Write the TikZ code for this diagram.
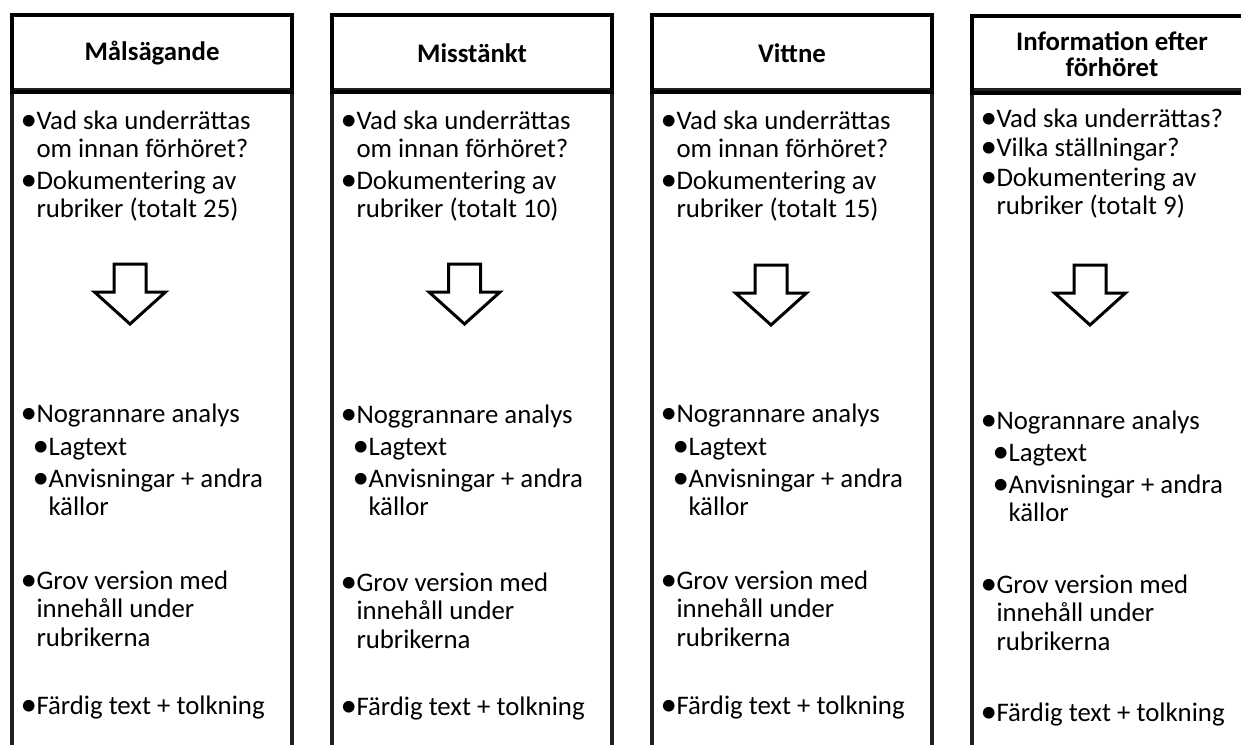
\documentclass[tikz,border=0pt]{standalone}
\usepackage{fontspec}
\setmainfont{Carlito}
\newcommand{\bu}{\makebox[12.5pt][l]{\hspace{-3.5pt}\makebox[0pt][l]{\raisebox{-1.5pt}{\fontsize{33}{33}\selectfont •}}}}
\newcommand{\one}[1]{\begin{tabular}[t]{@{}l@{}l@{}}\bu&#1\end{tabular}}
\newcommand{\two}[2]{\begin{tabular}[t]{@{}l@{}l@{}}\bu&#1\\&#2\end{tabular}}
\newcommand{\three}[3]{\begin{tabular}[t]{@{}l@{}l@{}}\bu&#1\\&#2\\&#3\end{tabular}}
\begin{document}
\begin{tikzpicture}[x=1pt,y=-1pt,
  colbox/.style={draw=black, line width=4pt, minimum width=280pt, inner sep=0pt, outer sep=0pt},
  headbox/.style={colbox, minimum height=77pt, font=\bfseries\fontsize{26.8}{25.5}\selectfont, align=center},
  bodybox/.style={colbox, draw=black!88, minimum height=700pt, anchor=north},
  txt/.style={anchor=base west, inner sep=0pt, outer sep=0pt, font=\fontsize{26.8}{28.5}\selectfont},
  downarrow/.style={draw=black, line width=3pt, fill=white, line join=miter}]
\useasboundingbox (0,0) rectangle (1241,744);
\clip (0,0) rectangle (1241,744);

% column 1
\node[bodybox] (b1) at (152,90) {};
\node[headbox] (h1) at (152,53) {Målsägande};
\node[txt] (t11) at (24,129) {\two{Vad ska underrättas}{om innan förhöret?}};
\node[txt] (t12) at (24,189) {\two{Dokumentering av}{rubriker (totalt 25)}};
\draw[downarrow] (114,264) -- (146,264) -- (146,292) -- (165.5,292) -- (130,324) -- (94.5,292) -- (114,292) -- cycle;
\node[txt] (t13) at (24,422) {\one{Nogrannare analys}};
\node[txt] (t14) at (36,455) {\one{Lagtext}};
\node[txt] (t15) at (36,487) {\two{Anvisningar + andra}{källor}};
\node[txt] (t16) at (24,589) {\three{Grov version med}{innehåll under}{rubrikerna}};
\node[txt] (t17) at (24,714) {\one{Färdig text + tolkning}};

% column 2
\node[bodybox] (b2) at (472,90) {};
\node[headbox] (h2) at (472,53) {Misstänkt};
\node[txt] (t21) at (344,129) {\two{Vad ska underrättas}{om innan förhöret?}};
\node[txt] (t22) at (344,189) {\two{Dokumentering av}{rubriker (totalt 10)}};
\draw[downarrow] (448.5,264) -- (480.5,264) -- (480.5,292) -- (500,292) -- (464.5,324) -- (429,292) -- (448.5,292) -- cycle;
\node[txt] (t23) at (344,423) {\one{Noggrannare analys}};
\node[txt] (t24) at (356,455) {\one{Lagtext}};
\node[txt] (t25) at (356,487) {\two{Anvisningar + andra}{källor}};
\node[txt] (t26) at (344,591) {\three{Grov version med}{innehåll under}{rubrikerna}};
\node[txt] (t27) at (344,715) {\one{Färdig text + tolkning}};

% column 3
\node[bodybox] (b3) at (792,90) {};
\node[headbox] (h3) at (792,53) {Vittne};
\node[txt] (t31) at (664,129) {\two{Vad ska underrättas}{om innan förhöret?}};
\node[txt] (t32) at (664,189) {\two{Dokumentering av}{rubriker (totalt 15)}};
\draw[downarrow] (755,265) -- (787,265) -- (787,293) -- (806.5,293) -- (771,325) -- (735.5,293) -- (755,293) -- cycle;
\node[txt] (t33) at (664,422) {\one{Nogrannare analys}};
\node[txt] (t34) at (676,455) {\one{Lagtext}};
\node[txt] (t35) at (676,487) {\two{Anvisningar + andra}{källor}};
\node[txt] (t36) at (664,589) {\three{Grov version med}{innehåll under}{rubrikerna}};
\node[txt] (t37) at (664,714) {\one{Färdig text + tolkning}};

% column 4
\node[bodybox] (b4) at (1112,90) {};
\node[headbox] (h4) at (1112,54) {Information efter\\förhöret};
\node[txt] (t41) at (984,127) {\one{Vad ska underrättas?}};
\node[txt] (t42) at (984,156) {\one{Vilka ställningar?}};
\node[txt] (t43) at (984,186) {\two{Dokumentering av}{rubriker (totalt 9)}};
\draw[downarrow] (1074,265) -- (1106,265) -- (1106,293) -- (1125.5,293) -- (1090,325) -- (1054.5,293) -- (1074,293) -- cycle;
\node[txt] (t44) at (984,429) {\one{Nogrannare analys}};
\node[txt] (t45) at (996,461) {\one{Lagtext}};
\node[txt] (t46) at (996,493) {\two{Anvisningar + andra}{källor}};
\node[txt] (t47) at (984,593) {\three{Grov version med}{innehåll under}{rubrikerna}};
\node[txt] (t48) at (984,721) {\one{Färdig text + tolkning}};
\end{tikzpicture}
\end{document}
